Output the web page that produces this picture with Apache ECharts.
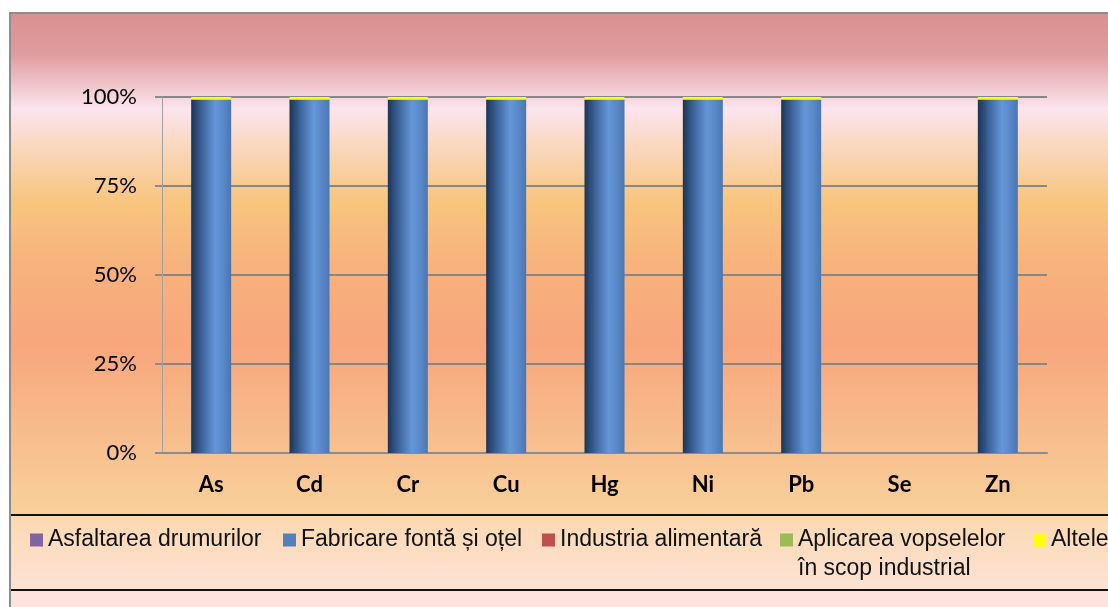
<!DOCTYPE html>
<html>
<head>
<meta charset="utf-8">
<script src="https://cdn.jsdelivr.net/npm/echarts@6/dist/echarts.min.js"></script>
<style>
  html, body { margin: 0; padding: 0; background: #fff; }
  #chart { width: 1108px; height: 607px; }
</style>
</head>
<body>
<div id="chart"></div>
<script>
var categories = ['As', 'Cd', 'Cr', 'Cu', 'Hg', 'Ni', 'Pb', 'Se', 'Zn'];
var seriesNames = ['Asfaltarea drumurilor', 'Fabricare fontă și oțel', 'Industria alimentară',
                   'Aplicarea vopselelor în scop industrial', 'Altele'];
// share of each source, percent
var asfaltare = [0, 0, 0, 0, 0, 0, 0, 0, 0];
var fonta     = [99.3, 99.3, 99.3, 99.3, 99.3, 99.3, 99.3, 0, 99.3];
var alimentar = [0, 0, 0, 0, 0, 0, 0, 0, 0];
var vopsele   = [0, 0, 0, 0, 0, 0, 0, 0, 0];
var altele    = [0.7, 0.7, 0.7, 0.7, 0.7, 0.7, 0.7, 0, 0.7];
var yTicks = [0, 25, 50, 75, 100];

var legendColors = ['#8064A2', '#4F81BD', '#C0504D', '#9BBB59', '#FFFF00'];
var legendLeft = [30, 283, 542, 780, 1033];
var values = [asfaltare, fonta, alimentar, vopsele, altele];

var blueBar = new echarts.graphic.LinearGradient(0, 0, 1, 0, [
  {offset: 0, color: '#1D3453'},
  {offset: 0.25, color: '#3A6096'},
  {offset: 0.6, color: '#6596D9'},
  {offset: 0.8, color: '#5A89CA'},
  {offset: 1, color: '#4A76B2'}
]);
var fills = [legendColors[0], blueBar, legendColors[2], legendColors[3], legendColors[4]];

var series = [];
var legends = [];
for (var i = 0; i < seriesNames.length; i++) {
  series.push({
    name: seriesNames[i],
    type: 'bar',
    stack: 'total',
    barWidth: 40,
    itemStyle: {color: fills[i]},
    data: values[i]
  });
  legends.push({
    data: [{name: seriesNames[i], itemStyle: {color: legendColors[i]}}],
    left: legendLeft[i],
    top: 528,
    padding: 0,
    icon: 'rect',
    itemWidth: 13,
    itemHeight: 13,
    selectedMode: false,
    formatter: function (n) { return n === seriesNames[3] ? 'Aplicarea vopselelor' : n; },
    textStyle: {fontFamily: 'Liberation Sans', fontSize: 23, lineHeight: 24, color: '#111'}
  });
}

var bg = new echarts.graphic.LinearGradient(0, 0, 0, 1, [
  {offset: 0, color: '#DA8F8F'},
  {offset: 0.07, color: '#DF9C9E'},
  {offset: 0.16, color: '#FCE4EE'},
  {offset: 0.215, color: '#FAD9C4'},
  {offset: 0.315, color: '#F8C57E'},
  {offset: 0.415, color: '#F7B37C'},
  {offset: 0.55, color: '#F8A67C'},
  {offset: 0.685, color: '#F7BA8A'},
  {offset: 0.85, color: '#F9D39C'},
  {offset: 1, color: '#FDE2DD'}
]);
var legendBg = new echarts.graphic.LinearGradient(0, 0, 0, 1, [
  {offset: 0, color: '#FBD9B0'},
  {offset: 1, color: '#FDE2D6'}
]);

var chart = echarts.init(document.getElementById('chart'));
chart.setOption({
  animation: false,
  backgroundColor: '#fff',
  graphic: [
    {type: 'rect', z: -10, shape: {x: 10, y: 13, width: 1110, height: 600},
     style: {fill: bg, stroke: '#8C8C8C', lineWidth: 2}},
    {type: 'rect', z: -9, shape: {x: 11, y: 515, width: 1110, height: 75},
     style: {fill: legendBg}},
    {type: 'rect', z: -9, shape: {x: 11, y: 590, width: 1110, height: 17},
     style: {fill: '#FEE2DE'}},
    {type: 'line', z: -8, shape: {x1: 11, y1: 515, x2: 1108, y2: 515}, style: {stroke: '#111', lineWidth: 2}},
    {type: 'line', z: -8, shape: {x1: 11, y1: 590, x2: 1108, y2: 590}, style: {stroke: '#111', lineWidth: 2}},
    {type: 'text', left: 798, top: 557,
     style: {text: 'în scop industrial', font: '23px "Liberation Sans"', fill: '#111'}}
  ],
  legend: legends,
  grid: {left: 162, right: 61, top: 97, bottom: 154},
  xAxis: {
    type: 'category',
    data: categories,
    axisLine: {lineStyle: {color: '#8C8C8C', width: 2}},
    axisTick: {length: 7, lineStyle: {color: '#8C8C8C', width: 2}},
    axisLabel: {color: '#000', fontFamily: 'Lato', fontWeight: 'bold', fontSize: 22, margin: 21}
  },
  yAxis: {
    type: 'value',
    min: yTicks[0],
    max: yTicks[yTicks.length - 1],
    interval: yTicks[1] - yTicks[0],
    axisLine: {show: true, lineStyle: {color: '#A0A0A0', width: 1}},
    axisTick: {show: true, length: 7, lineStyle: {color: '#8C8C8C', width: 2}},
    splitLine: {lineStyle: {color: '#878787', width: 2}},
    axisLabel: {color: '#000', fontFamily: 'Lato', fontSize: 22, margin: 25, formatter: '{value}%'}
  },
  series: series
});
</script>
</body>
</html>
